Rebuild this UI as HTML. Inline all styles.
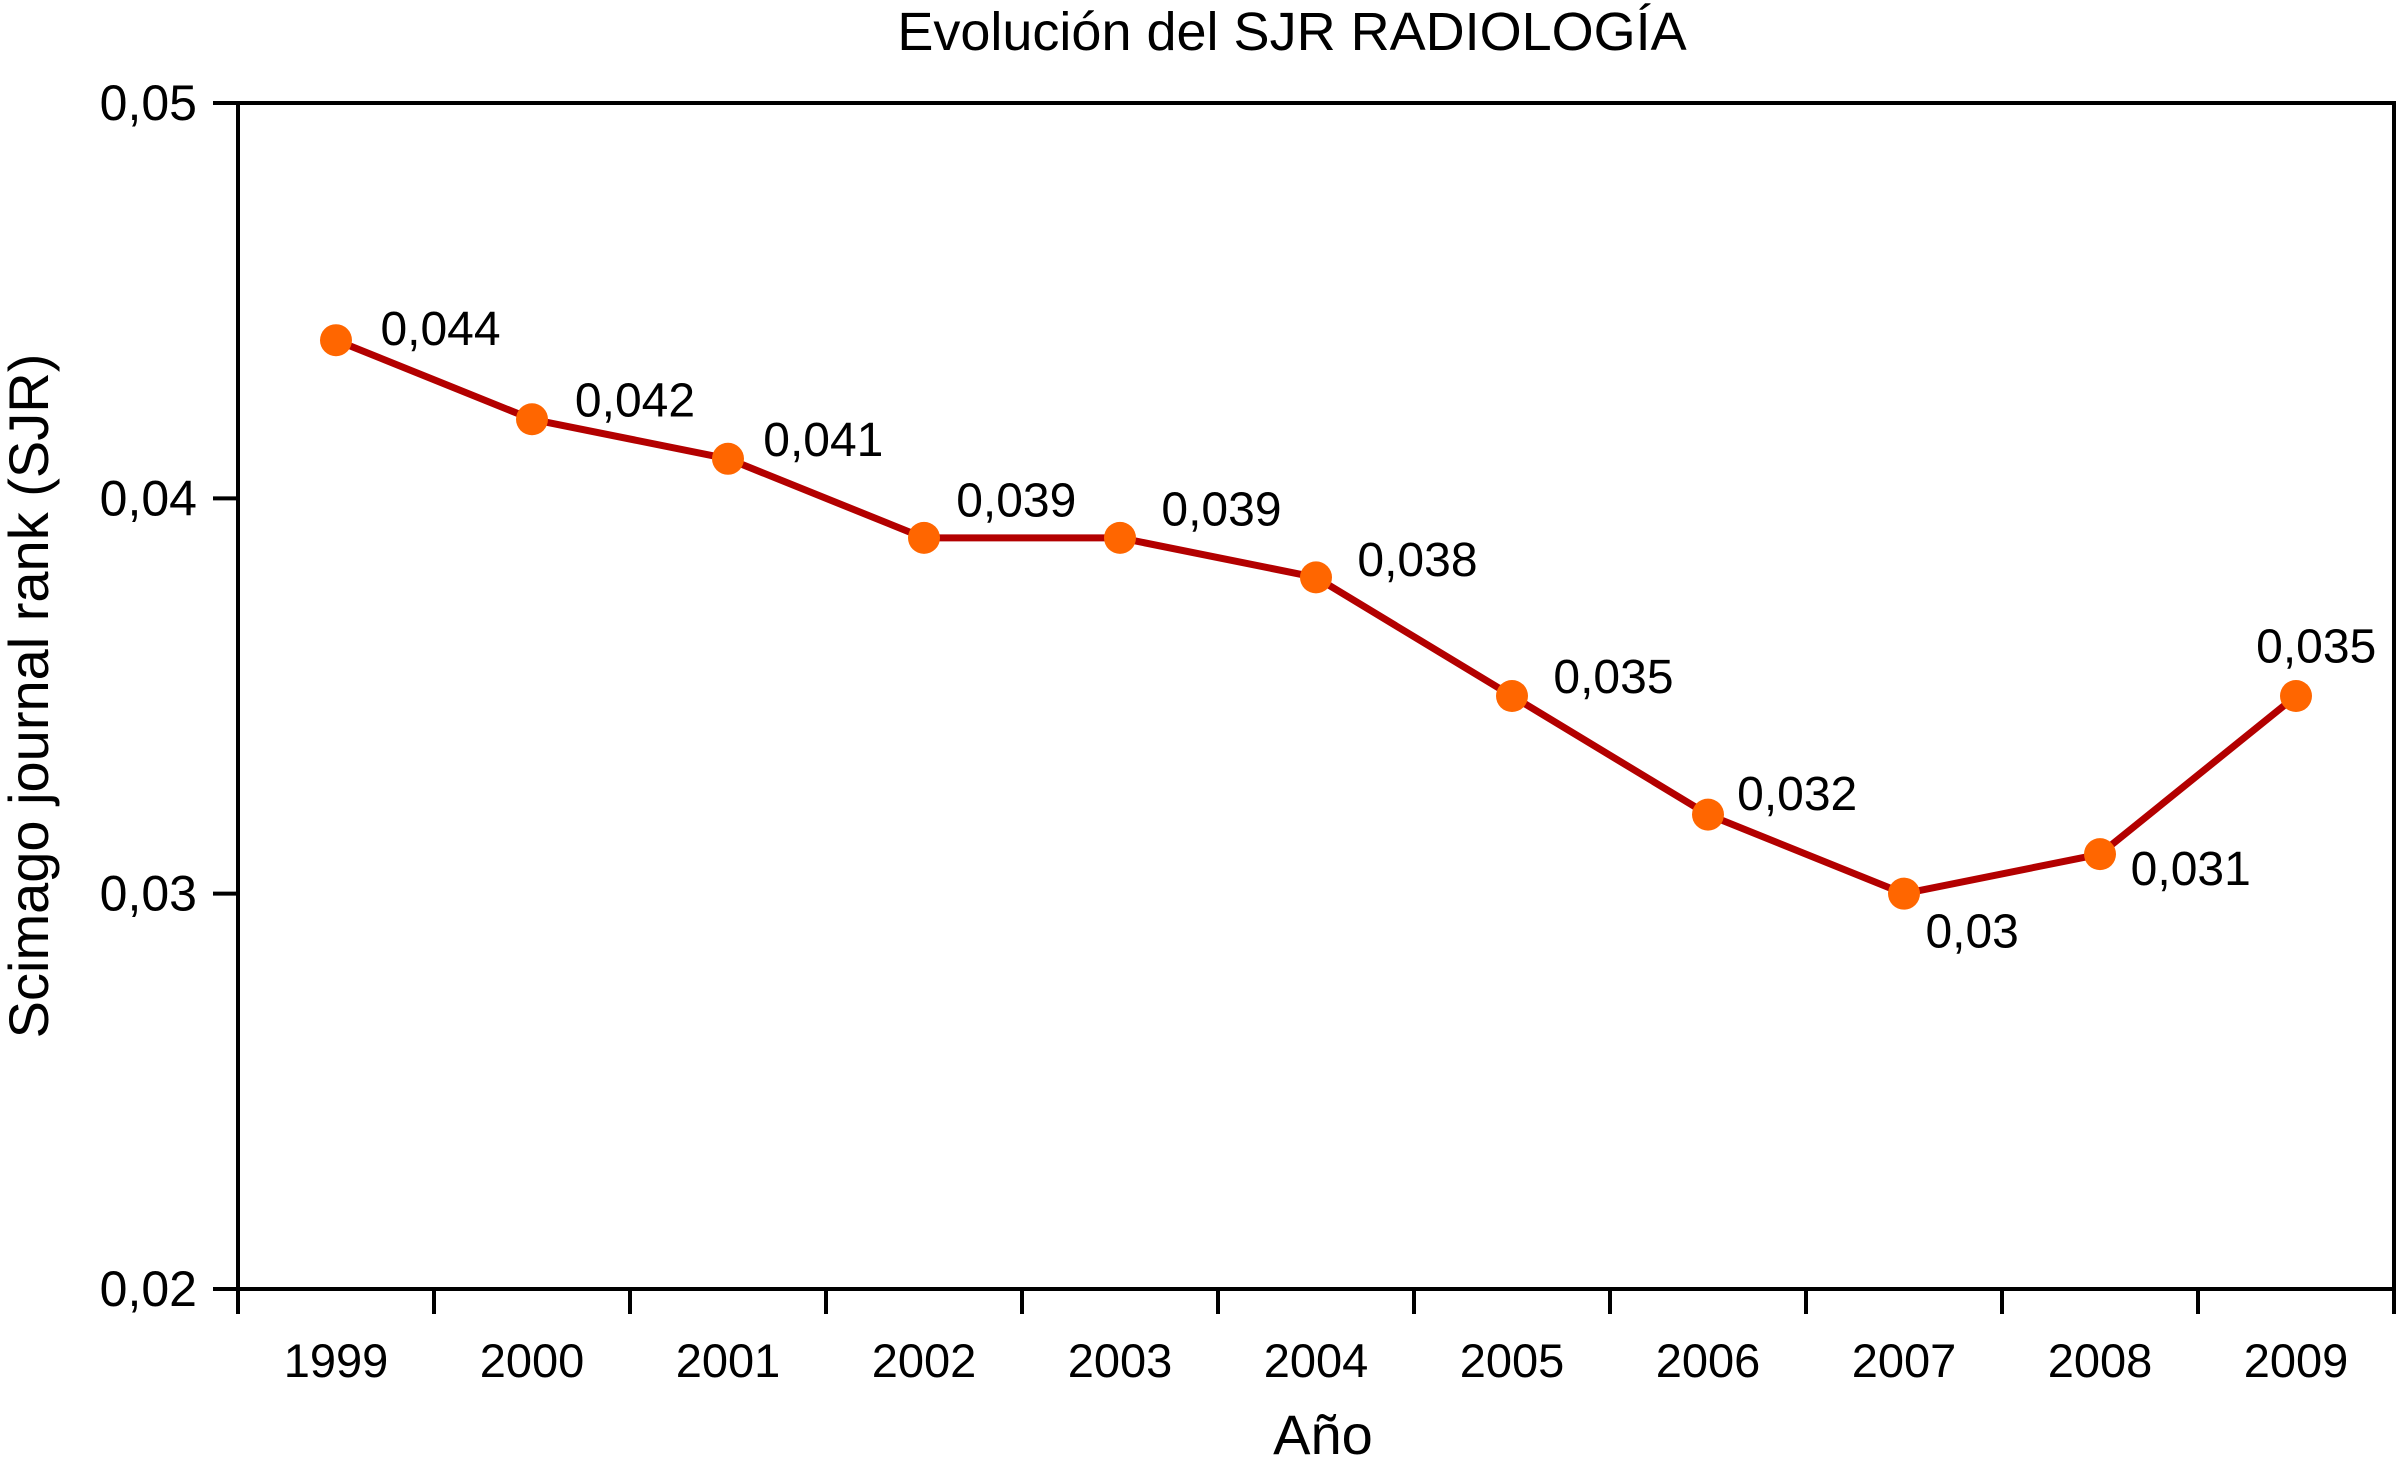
<!DOCTYPE html>
<html><head><meta charset="utf-8"><style>
html,body{margin:0;padding:0;background:#fff;}
svg{display:block;font-family:"Liberation Sans",Arial,sans-serif;}
</style></head><body>
<svg id="chart" width="2403" height="1465" viewBox="0 0 2403 1465">
<text x="1292" y="50" font-size="54" text-anchor="middle">Evolución del SJR RADIOLOGÍA</text>
<text transform="translate(48,696) rotate(-90)" font-size="56" text-anchor="middle">Scimago journal rank (SJR)</text>
<text x="1323" y="1454" font-size="56" text-anchor="middle">Año</text>
<g id="axes"></g>
<g id="series"></g>
</svg>
<script>
const years = ["1999","2000","2001","2002","2003","2004","2005","2006","2007","2008","2009"];
const sjrValues = [0.044,0.042,0.041,0.039,0.039,0.038,0.035,0.032,0.030,0.031,0.035];
const valueLabels = ["0,044","0,042","0,041","0,039","0,039","0,038","0,035","0,032","0,03","0,031","0,035"];
const yTicks = [0.02,0.03,0.04,0.05];
const yTickLabels = ["0,02","0,03","0,04","0,05"];
const labelDx = [29,28,23,21,27,27,27,19,14,20,-26];
const labelDy = [-8,-13,-13,-25,-19,-12,-13,-14,24,9,-33];

const NS="http://www.w3.org/2000/svg";
const L=238,R=2394,T=103,B=1289,yMin=0.02,yMax=0.05;
const step=(R-L)/years.length;
const xS=i=>L+step*(i+0.5);
const yS=v=>B-(v-yMin)/(yMax-yMin)*(B-T);
function mk(tag,attrs,parent){const e=document.createElementNS(NS,tag);for(const k in attrs)e.setAttribute(k,attrs[k]);parent.appendChild(e);return e;}
const axes=document.getElementById('axes'),series=document.getElementById('series');
const frame=mk('rect',{x:L,y:T,width:R-L,height:B-T,fill:'none',stroke:'#000','stroke-width':4},axes);


yTicks.forEach((v,i)=>{
  const t=mk('line',{x1:213,x2:L,y1:yS(v),y2:yS(v),stroke:'#000','stroke-width':4},axes);
  
  
  const tx=mk('text',{x:197,y:yS(v)+17,'font-size':50,'text-anchor':'end'},axes);
  tx.textContent=yTickLabels[i];
  
  
});
for(let i=0;i<=years.length;i++){
  const x=L+step*i;
  const t=mk('line',{x1:x,x2:x,y1:B,y2:1314,stroke:'#000','stroke-width':4},axes);
  
  
}
years.forEach((y,i)=>{
  const tx=mk('text',{x:xS(i),y:1377,'font-size':47,'text-anchor':'middle'},axes);
  tx.textContent=y;
  
  
});
const pts=sjrValues.map((v,i)=>xS(i)+','+yS(v)).join(' ');
const line=mk('polyline',{points:pts,fill:'none',stroke:'#b30000','stroke-width':7,'stroke-linejoin':'round'},series);


sjrValues.forEach((v,i)=>{
  const c=mk('circle',{cx:xS(i),cy:yS(v),r:16,fill:'#ff6600'},series);
  
  
  const tx=mk('text',{x:xS(i)+labelDx[i]*1.533,y:yS(v)+labelDy[i]*1.533+17,'font-size':48},series);
  tx.textContent=valueLabels[i];
  
  
});
</script>
</body></html>
